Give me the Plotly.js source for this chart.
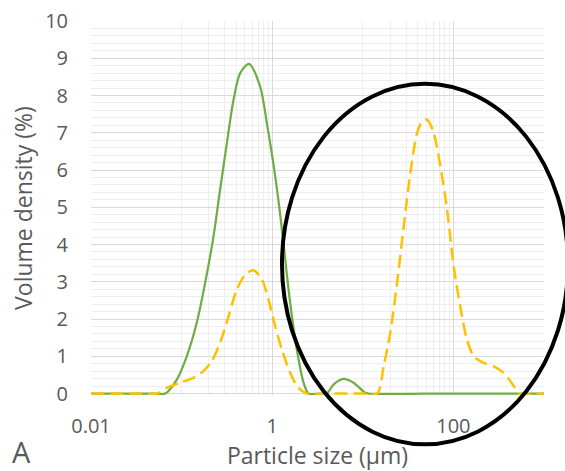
<!DOCTYPE html>
<html>
<head>
<meta charset="utf-8">
<script src="https://cdn.plot.ly/plotly-3.0.1.min.js"></script>
<style>html,body{margin:0;padding:0;background:#fff;}#chart{width:565px;height:471px;}</style>
</head>
<body>
<div id="chart"></div>
<script>
// Particle size (µm) and volume density (%)
const greenX = [0.01, 0.03, 0.05, 0.066, 0.0885, 0.114, 0.147, 0.182, 0.225, 0.266, 0.316, 0.374, 0.443, 0.555, 0.736, 0.873, 1.03, 1.17, 1.33, 1.58, 1.87, 2.22, 2.51, 3.2, 4.0, 4.75, 6.1, 7.9, 10.5, 11.5, 100, 1000];
const greenY = [0, 0, 0, 0, 0.375, 1.0, 1.9, 2.97, 4.22, 5.47, 6.72, 7.88, 8.6, 8.85, 8.24, 7.26, 6.18, 5.2, 4.04, 2.43, 1.18, 0.29, 0, 0, 0, 0.24, 0.39, 0.29, 0.03, 0, 0, 0];

const yellowX = [0.01, 0.03, 0.054, 0.0685, 0.096, 0.135, 0.174, 0.215, 0.266, 0.329, 0.407, 0.503, 0.62, 0.77, 0.91, 1.08, 1.28, 1.58, 1.95, 2.41, 5, 10, 14.4, 17, 20.1, 23.9, 28.3, 33.5, 39.7, 45.1, 51.2, 60.7, 71.8, 85.2, 100.8, 119, 141, 168, 216, 279, 360, 464, 525, 1000];
const yellowY = [0, 0, 0, 0.15, 0.29, 0.42, 0.6, 0.87, 1.36, 2.07, 2.79, 3.19, 3.31, 3.06, 2.52, 1.8, 1.18, 0.55, 0.15, 0, 0, 0, 0, 0.73, 1.63, 2.97, 4.49, 5.92, 6.99, 7.30, 7.35, 6.99, 6.1, 4.93, 3.41, 2.34, 1.45, 1.0, 0.82, 0.73, 0.55, 0.2, 0, 0];

const xTickVals = [0.01, 1, 100];
const xTickText = ["0.01", "1", "100"];
const xMinorVals = [0.1, 0.2, 0.3, 0.4, 0.5, 0.6, 0.7, 0.8, 0.9, 10, 20, 30, 40, 50, 60, 70, 80, 90, 1000];

const txt = '#595959';
const fam = '"Open Sans", "Noto Sans", sans-serif';

const traces = [
  {x: greenX, y: greenY, type: 'scatter', mode: 'lines', cliponaxis: false,
   line: {color: '#70AD47', width: 2.25, shape: 'spline', smoothing: 0.8}, name: 'A1'},
  {x: yellowX, y: yellowY, type: 'scatter', mode: 'lines', cliponaxis: false,
   line: {color: '#FFC000', width: 2.5, shape: 'spline', smoothing: 0.8, dash: '13px,6px'}, name: 'A2'}
];

const layout = {
  width: 565, height: 471,
  margin: {l: 91, r: 21, t: 21, b: 75.5},
  paper_bgcolor: '#fff', plot_bgcolor: '#fff',
  showlegend: false,
  font: {family: fam, color: txt},
  xaxis: {
    type: 'log', range: [-2, 3],
    tickmode: 'array', tickvals: xTickVals, ticktext: xTickText,
    ticks: 'outside', ticklen: 13, tickcolor: 'rgba(0,0,0,0)',
    tickfont: {size: 20, color: txt, family: fam},
    showgrid: true, gridcolor: '#d9d9d9', gridwidth: 1,
    minor: {tickmode: 'array', tickvals: xMinorVals, showgrid: true, gridcolor: '#eeeeee', gridwidth: 1, ticks: ''},
    showline: false,
    zeroline: false,
    title: {text: 'Particle size (µm)', font: {size: 23, color: txt, family: fam}, standoff: 4},
    automargin: false
  },
  yaxis: {
    range: [-0.04, 10], tickmode: 'linear', dtick: 1, tick0: 0,
    ticks: 'outside', ticklen: 18, tickcolor: 'rgba(0,0,0,0)',
    tickfont: {size: 20, color: txt, family: fam},
    showgrid: true, gridcolor: '#d9d9d9', gridwidth: 1,
    minor: {tickmode: 'linear', tick0: 0, dtick: 0.2, showgrid: true, gridcolor: '#eeeeee', gridwidth: 1, ticks: ''},
    showline: false,
    zeroline: false,
    title: {text: 'Volume density (%)', font: {size: 23, color: txt, family: fam}, standoff: 6},
    automargin: false
  },
  shapes: [{
    type: 'circle', xref: 'paper', yref: 'paper',
    x0: 0.4216, x1: 1.053, y0: -0.132, y1: 0.832,
    line: {color: '#000000', width: 4}, layer: 'above'
  }],
  annotations: [{
    text: 'A', xref: 'paper', yref: 'paper', x: -0.178, y: -0.152,
    xanchor: 'left', yanchor: 'middle', showarrow: false,
    font: {size: 29, color: txt, family: fam}
  }]
};

Plotly.newPlot('chart', traces, layout, {staticPlot: true, displayModeBar: false});
</script>
</body>
</html>
